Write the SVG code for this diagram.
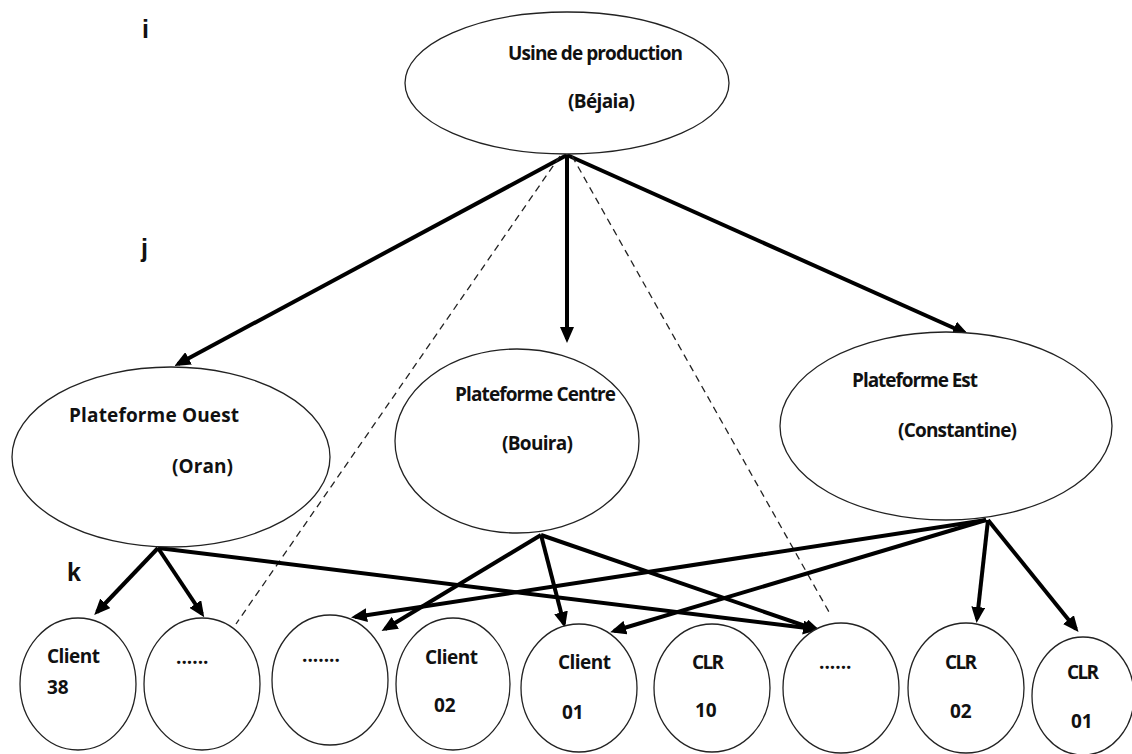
<svg xmlns="http://www.w3.org/2000/svg" width="1132" height="754" viewBox="0 0 1132 754">
<defs>
<style>
.node{fill:#fff;stroke:#222;stroke-width:1.3}
.t{font-family:"Open Sans","Liberation Sans",sans-serif;font-weight:bold;font-size:19px;fill:#111}
.lbl{font-family:"Liberation Sans",Arial,sans-serif;font-weight:bold;font-size:25px;fill:#111}
.arr{stroke:#000;stroke-width:4;fill:none;marker-end:url(#ah)}
.dash{stroke:#222;stroke-width:1.3;stroke-dasharray:7,5;fill:none}
</style>
<marker id="ah" markerUnits="userSpaceOnUse" markerWidth="16" markerHeight="14" refX="12" refY="7" orient="auto">
<path d="M0,0 L16,7 L0,14 z" fill="#000"/>
</marker>
</defs>
<rect width="1132" height="754" fill="#fff"/>

<text class="lbl" x="142" y="38">i</text>
<text class="lbl" x="141" y="257">j</text>
<text class="lbl" x="67" y="581">k</text>

<g id="connectors">
<line class="arr" x1="567" y1="155" x2="178" y2="364"/>
<line class="arr" x1="567" y1="155" x2="567" y2="339"/>
<line class="arr" x1="567" y1="155" x2="965" y2="333"/>
<line class="dash" x1="560" y1="156" x2="236" y2="624"/>
<line class="dash" x1="572" y1="156" x2="829" y2="612"/>

<line class="arr" x1="158" y1="548" x2="97" y2="612"/>
<line class="arr" x1="158" y1="548" x2="202" y2="614"/>
<line class="arr" x1="158" y1="548" x2="815" y2="629"/>

<line class="arr" x1="541" y1="535" x2="385" y2="629"/>
<line class="arr" x1="541" y1="535" x2="564" y2="624"/>
<line class="arr" x1="541" y1="535" x2="817" y2="630"/>

<line class="arr" x1="986" y1="520" x2="355" y2="617"/>
<line class="arr" x1="986" y1="520" x2="614" y2="631"/>
<line class="arr" x1="988" y1="520" x2="977" y2="619"/>
<line class="arr" x1="988" y1="520" x2="1076" y2="629"/>
</g>

<g id="usine">
<ellipse class="node" cx="567" cy="83" rx="162" ry="71"/>
<text class="t" x="508" y="60" textLength="175">Usine de production</text>
<text class="t" x="568" y="108" textLength="67">(Béjaia)</text>
</g>

<g id="ouest">
<ellipse class="node" cx="171" cy="457" rx="159" ry="90"/>
<text class="t" x="69" y="422" textLength="170">Plateforme Ouest</text>
<text class="t" x="172" y="473" textLength="61">(Oran)</text>
</g>

<g id="centre">
<ellipse class="node" cx="517" cy="441" rx="122" ry="92"/>
<text class="t" x="455" y="401" textLength="161">Plateforme Centre</text>
<text class="t" x="502" y="450" textLength="71">(Bouira)</text>
</g>

<g id="est">
<ellipse class="node" cx="946" cy="426" rx="166" ry="94"/>
<text class="t" x="852" y="387" textLength="126">Plateforme Est</text>
<text class="t" x="898" y="437" textLength="119">(Constantine)</text>
</g>

<g id="client38">
<ellipse class="node" cx="78" cy="684" rx="58" ry="66"/>
<text class="t" x="47" y="663" textLength="53">Client</text>
<text class="t" x="47" y="694">38</text>
</g>
<g id="dots1">
<ellipse class="node" cx="202" cy="684" rx="58" ry="66"/>
<text class="t" x="176" y="664">......</text>
</g>
<g id="dots2">
<ellipse class="node" cx="330" cy="680" rx="58" ry="65"/>
<text class="t" x="302" y="662">.......</text>
</g>
<g id="client02">
<ellipse class="node" cx="453" cy="684" rx="57" ry="66"/>
<text class="t" x="425" y="664" textLength="53">Client</text>
<text class="t" x="434" y="712">02</text>
</g>
<g id="client01">
<ellipse class="node" cx="579" cy="688" rx="58" ry="64"/>
<text class="t" x="558" y="669" textLength="53">Client</text>
<text class="t" x="562" y="719">01</text>
</g>
<g id="clr10">
<ellipse class="node" cx="712" cy="688" rx="58" ry="64"/>
<text class="t" x="692" y="669" textLength="32">CLR</text>
<text class="t" x="695" y="717">10</text>
</g>
<g id="dots3">
<ellipse class="node" cx="841" cy="688" rx="58" ry="65"/>
<text class="t" x="819" y="669">......</text>
</g>
<g id="clr02">
<ellipse class="node" cx="966" cy="688" rx="58" ry="65"/>
<text class="t" x="945" y="669" textLength="32">CLR</text>
<text class="t" x="950" y="718">02</text>
</g>
<g id="clr01">
<ellipse class="node" cx="1083" cy="696" rx="51" ry="59"/>
<text class="t" x="1067" y="679" textLength="32">CLR</text>
<text class="t" x="1071" y="728">01</text>
</g>
</svg>
